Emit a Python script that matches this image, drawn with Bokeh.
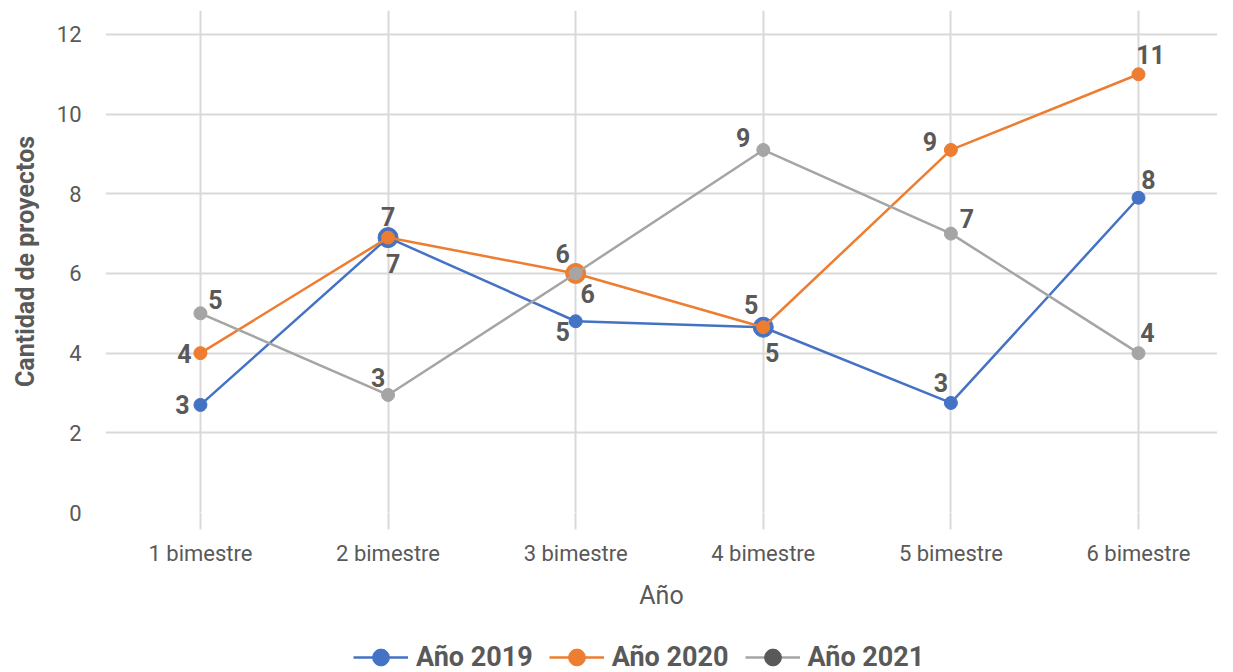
from bokeh.plotting import figure
from bokeh.layouts import column
from bokeh.models import (Range1d, FixedTicker, ColumnDataSource, LabelSet,
                          Legend, LegendItem)
from bokeh.core.properties import value
from bokeh.embed import file_html
from bokeh.resources import INLINE

categories = ["1 bimestre", "2 bimestre", "3 bimestre", "4 bimestre", "5 bimestre", "6 bimestre"]
series_names = ["Año 2019", "Año 2020", "Año 2021"]
v2019 = [2.7, 6.9, 4.8, 4.65, 2.75, 7.9]
v2020 = [4.0, 6.9, 6.0, 4.65, 9.1, 11.0]
v2021 = [5.0, 2.95, 6.0, 9.1, 7.0, 4.0]
y_ticks = [0, 2, 4, 6, 8, 10, 12]

# styling (not data)
colors = ["#4472C4", "#ED7D31", "#A5A5A5"]
legend_marker_colors = ["#4472C4", "#ED7D31", "#595959"]
marker_sizes = [
    [13, 20, 13, 20, 13, 13],
    [13, 13, 20, 13, 13, 13],
    [13, 13, 13, 13, 13, 13],
]
label_dx = [
    [-18, 5, -13, 9, -10, 10],
    [-16, 0, -13, -12, -21, 12],
    [15, -10, 12, -20, 16, 9],
]
label_dy = [
    [0, -26, -10, -25, 20, 18],
    [0, 21, 20, 23, 8, 20],
    [14, 17, -20, 12, 15, 21],
]

FONT = "Roboto"
TXT = "#595959"
GRID = "#D9D9D9"

p = figure(width=1217, height=612, output_backend="svg", toolbar_location=None,
           x_range=Range1d(-0.506, 5.421), y_range=Range1d(0, 12.6),
           min_border_left=105, min_border_right=0, min_border_top=10,
           min_border_bottom=96)
p.outline_line_color = None

xs = list(range(len(categories)))

p.xaxis.ticker = FixedTicker(ticks=xs)
p.xaxis.major_label_overrides = {i: c for i, c in enumerate(categories)}
p.yaxis.ticker = FixedTicker(ticks=y_ticks)

p.xgrid.grid_line_color = GRID
p.ygrid.grid_line_color = GRID
p.xgrid.grid_line_width = 2
p.ygrid.grid_line_width = 2

for ax in (p.xaxis[0], p.yaxis[0]):
    ax.axis_line_color = None
    ax.minor_tick_line_color = None
    ax.major_label_text_font = FONT
    ax.major_label_text_color = TXT
    ax.major_label_text_font_size = "22px"
    ax.axis_label_text_font = FONT
    ax.axis_label_text_color = TXT
    ax.axis_label_text_font_size = "25px"

p.xaxis.major_tick_line_color = GRID
p.xaxis.major_tick_line_width = 2
p.xaxis.major_tick_out = 17
p.xaxis.major_tick_in = 0
p.xaxis.major_label_standoff = 11
p.xaxis.axis_label = "Año"
p.xaxis.axis_label_standoff = 12
p.xaxis.axis_label_text_font_style = "normal"

p.yaxis.major_tick_line_color = None
p.yaxis.major_label_standoff = 18
p.yaxis.axis_label = "Cantidad de proyectos"
p.yaxis.axis_label_standoff = 14
p.yaxis.axis_label_text_font_style = "bold"

# separate strip for the legend
lf = figure(width=1217, height=60, output_backend="svg", toolbar_location=None,
            x_range=Range1d(0, 1), y_range=Range1d(0, 1),
            min_border=0, min_border_left=0, min_border_right=0,
            min_border_top=0, min_border_bottom=0)
lf.axis.visible = False
lf.grid.visible = False
lf.outline_line_color = None

legend_items = []
for k, vals in enumerate([v2019, v2020, v2021]):
    src = ColumnDataSource(dict(
        x=xs, y=vals, size=marker_sizes[k],
        label=[str(int(round(v))) for v in vals],
        dx=label_dx[k], dy=label_dy[k],
    ))
    p.line("x", "y", source=src, line_color=colors[k], line_width=2.5)
    p.scatter("x", "y", source=src, size="size", fill_color=colors[k],
              line_color=colors[k], line_width=1)
    labels = LabelSet(x="x", y="y", text="label", source=src,
                      x_offset="dx", y_offset="dy",
                      text_font=value(FONT), text_font_style="bold",
                      text_font_size="25px", text_color=TXT,
                      text_align="center", text_baseline="middle")
    p.add_layout(labels)
    # legend glyph renderers (placed outside the visible strip)
    hidden = ColumnDataSource(dict(x=[-10, -9], y=[-10, -10]))
    lr = lf.line("x", "y", source=hidden, line_color=colors[k], line_width=2.5)
    sr = lf.scatter("x", "y", source=hidden, size=17,
                    fill_color=legend_marker_colors[k],
                    line_color=legend_marker_colors[k])
    legend_items.append(LegendItem(label=series_names[k], renderers=[lr, sr]))

legend = Legend(items=legend_items, orientation="horizontal",
                location=(248, -6), border_line_color=None,
                background_fill_alpha=0, padding=0, margin=0,
                spacing=16, glyph_width=55, glyph_height=42,
                label_standoff=8, label_text_font=FONT,
                label_text_font_style="bold", label_text_font_size="27px",
                label_text_color=TXT, label_height=42)
lf.add_layout(legend, "center")

layout = column(p, lf, spacing=0)
open("out.html", "w").write(file_html(layout, INLINE))
